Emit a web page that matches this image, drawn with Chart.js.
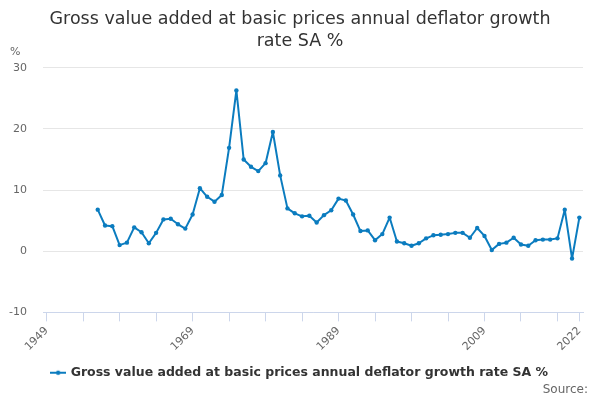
<!DOCTYPE html>
<html>
<head>
<meta charset="utf-8">
<script src="https://cdn.jsdelivr.net/npm/chart.js@4"></script>
<style>
  html, body { margin: 0; padding: 0; background: #fff; }
  #wrap { width: 600px; height: 400px; }
</style>
</head>
<body>
<div id="wrap"><canvas id="gvaChart"></canvas></div>
<script>
const years = [
  1956, 1957, 1958, 1959, 1960, 1961, 1962, 1963, 1964, 1965,
  1966, 1967, 1968, 1969, 1970, 1971, 1972, 1973, 1974, 1975,
  1976, 1977, 1978, 1979, 1980, 1981, 1982, 1983, 1984, 1985,
  1986, 1987, 1988, 1989, 1990, 1991, 1992, 1993, 1994, 1995,
  1996, 1997, 1998, 1999, 2000, 2001, 2002, 2003, 2004, 2005,
  2006, 2007, 2008, 2009, 2010, 2011, 2012, 2013, 2014, 2015,
  2016, 2017, 2018, 2019, 2020, 2021, 2022
];
const deflatorGrowth = [
  6.8, 4.2, 4.1, 1.0, 1.4, 3.9, 3.1, 1.3, 3.0, 5.2,
  5.3, 4.4, 3.7, 6.0, 10.3, 8.9, 8.1, 9.2, 16.9, 26.3,
  15.0, 13.8, 13.1, 14.4, 19.5, 12.4, 7.0, 6.2, 5.7, 5.8,
  4.7, 5.9, 6.7, 8.6, 8.3, 6.0, 3.3, 3.4, 1.8, 2.8,
  5.5, 1.6, 1.3, 0.9, 1.3, 2.1, 2.6, 2.7, 2.8, 3.0,
  3.0, 2.2, 3.8, 2.5, 0.2, 1.2, 1.4, 2.2, 1.1, 0.9,
  1.8, 1.9, 1.9, 2.1, 6.8, -1.2, 5.5
];
const xTickYears = [1949, 1954, 1959, 1964, 1969, 1974, 1979, 1984, 1989, 1994, 1999, 2004, 2009, 2014, 2019, 2022];
const xLabelYears = [1949, 1969, 1989, 2009, 2022];
const seriesName = 'Gross value added at basic prices annual deflator growth rate SA %';

const lineColor = '#0b7cbf';

// legend symbol: short line with a dot, like the original
const legendSymbol = document.createElement('canvas');
legendSymbol.width = 16;
legendSymbol.height = 8;
(function () {
  const c = legendSymbol.getContext('2d');
  c.strokeStyle = lineColor;
  c.lineWidth = 2;
  c.beginPath();
  c.moveTo(0, 4);
  c.lineTo(16, 4);
  c.stroke();
  c.fillStyle = lineColor;
  c.beginPath();
  c.arc(8, 4, 2.2, 0, Math.PI * 2);
  c.fill();
})();

// "%" unit above the y axis and the "Source:" note bottom right
const extraText = {
  id: 'extraText',
  afterDraw(chart) {
    const ctx = chart.ctx;
    ctx.save();
    ctx.font = '11px "DejaVu Sans", sans-serif';
    ctx.fillStyle = '#666666';
    ctx.textBaseline = 'middle';
    ctx.textAlign = 'left';
    ctx.fillText('%', 10, 52);
    ctx.font = '12px "DejaVu Sans", sans-serif';
    ctx.textAlign = 'right';
    ctx.fillText('Source:', 588, 390);
    ctx.restore();
  }
};

new Chart(document.getElementById('gvaChart'), {
  type: 'line',
  data: {
    datasets: [{
      label: seriesName,
      data: years.map((yr, i) => ({ x: yr, y: deflatorGrowth[i] })),
      borderColor: lineColor,
      backgroundColor: lineColor,
      borderWidth: 2,
      borderJoinStyle: 'round',
      borderCapStyle: 'round',
      pointRadius: 2.2,
      pointBorderWidth: 0,
      pointHoverRadius: 3,
      tension: 0
    }]
  },
  options: {
    animation: false,
    responsive: true,
    maintainAspectRatio: false,
    layout: { padding: { left: 0, right: 0, top: 4, bottom: 11 } },
    plugins: {
      title: {
        display: true,
        text: ['Gross value added at basic prices annual deflator growth', 'rate SA %'],
        color: '#333333',
        font: { family: '"DejaVu Sans", sans-serif', size: 17.5, weight: 'normal', lineHeight: 1.25 },
        padding: { top: 5, bottom: 15 }
      },
      legend: {
        display: true,
        position: 'bottom',
        labels: {
          usePointStyle: true,
          pointStyle: legendSymbol,
          color: '#333333',
          font: { family: '"DejaVu Sans", sans-serif', size: 12.5, weight: 'bold' },
          padding: 5
        }
      },
      tooltip: { enabled: false }
    },
    scales: {
      x: {
        type: 'linear',
        min: 1948.5,
        max: 2022.5,
        afterBuildTicks(axis) {
          axis.ticks = xTickYears.map(v => ({ value: v }));
        },
        afterFit(axis) {
          axis.height += 5;
        },
        ticks: {
          autoSkip: false,
          maxRotation: 45,
          minRotation: 45,
          color: '#666666',
          font: { family: '"DejaVu Sans", sans-serif', size: 11 },
          callback: v => xLabelYears.includes(v) ? String(v) : ''
        },
        grid: {
          drawOnChartArea: false,
          color: '#ccd6eb',
          tickLength: 9
        },
        border: { color: '#ccd6eb', width: 1 }
      },
      y: {
        min: -10,
        max: 30,
        afterFit(axis) {
          axis.width = 43;
        },
        ticks: {
          stepSize: 10,
          color: '#666666',
          font: { family: '"DejaVu Sans", sans-serif', size: 11 },
          padding: 16
        },
        grid: { color: '#e6e6e6', drawTicks: false },
        border: { display: false }
      },
      // empty right-hand axis, only keeps the plot off the right edge
      yRight: {
        position: 'right',
        min: -10,
        max: 30,
        afterFit(axis) {
          axis.width = 17;
        },
        ticks: { display: false },
        grid: { drawOnChartArea: false, drawTicks: false },
        border: { display: false }
      }
    }
  },
  plugins: [extraText]
});
</script>
</body>
</html>
